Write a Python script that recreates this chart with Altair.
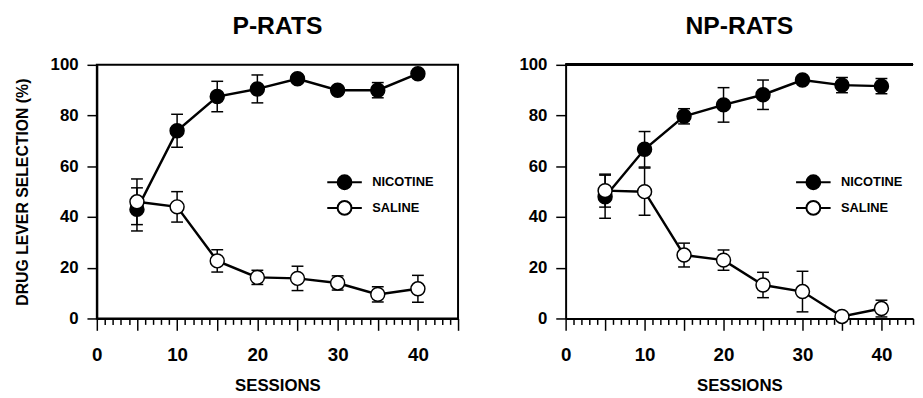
import altair as alt
import pandas as pd

FONT = "Liberation Sans"

sessions = [5, 10, 15, 20, 25, 30, 35, 40]

# P-RATS
p_nicotine = [43, 74, 87.5, 90.5, 94.5, 90, 90, 96.5]
p_nicotine_err = [8.5, 6.5, 6, 5.5, 1.5, 1.5, 3, 1.5]
p_saline = [46, 44, 22.7, 16.2, 15.8, 14, 9.5, 11.7]
p_saline_err = [9, 6, 4.4, 2.8, 4.8, 2.8, 3, 5.3]

# NP-RATS
np_nicotine = [48, 66.7, 79.7, 84.2, 88.2, 94, 92, 91.6]
np_nicotine_err = [8.5, 7, 3, 6.8, 5.8, 1, 3, 3]
np_saline = [50.4, 50, 25, 23, 13.2, 10.6, 0.8, 3.9]
np_saline_err = [6.5, 9.3, 4.7, 4, 5, 8, 0, 3.3]

series_names = ["NICOTINE", "SALINE"]
y_ticks = [0, 20, 40, 60, 80, 100]

LEGEND_SYMBOL = "M-2.5,0L-1,0M1,0L2.5,0M1,0A1,1,0,1,1,-1,0A1,1,0,1,1,1,0Z"


def make_df(nic, nic_err, sal, sal_err):
    rows = []
    for s, v, e in zip(sessions, nic, nic_err):
        rows.append({"session": s, "value": v, "lo": v - e, "hi": v + e, "series": "NICOTINE"})
    for s, v, e in zip(sessions, sal, sal_err):
        rows.append({"session": s, "value": v, "lo": v - e, "hi": v + e, "series": "SALINE"})
    return pd.DataFrame(rows)


def panel(title, df, xmax, width, show_ytitle, right_open):
    x_axis = alt.Axis(
        values=list(range(0, xmax + 1)),
        labelExpr="datum.value % 10 === 0 ? datum.label : ''",
        tickSize={"condition": {"test": "datum.value % 5 === 0", "value": 12}, "value": 6},
        tickColor="black", tickWidth=1.5,
        domainColor="black", domainWidth=2,
        labelFontSize=19, labelFontWeight="bold", labelColor="black",
        labelPadding=16, labelOverlap=False, labelFlush=False,
        title="SESSIONS", titleFontSize=17, titleFontWeight="bold", titleColor="black",
        titlePadding=13, grid=False,
    )
    y_axis = alt.Axis(
        values=y_ticks,
        tickSize=10, tickColor="black", tickWidth=1.5,
        domainColor="black", domainWidth=2,
        labelFontSize=17, labelFontWeight="bold", labelColor="black",
        labelPadding=9,
        title="DRUG LEVER SELECTION (%)" if show_ytitle else "",
        titleFontSize=16, titleFontWeight="bold", titleColor="black",
        titlePadding=20, grid=False,
    )
    x = alt.X("session:Q", scale=alt.Scale(domain=[0, xmax], nice=False), axis=x_axis)
    y = alt.Y("value:Q", scale=alt.Scale(domain=[0, 100], nice=False), axis=y_axis)
    base = alt.Chart(df)
    rules = base.mark_rule(color="black", strokeWidth=1.5).encode(
        x=x, y=alt.Y("lo:Q"), y2="hi:Q"
    )
    cap_lo = base.mark_tick(orient="horizontal", size=12, thickness=1.5, color="black", opacity=1).encode(
        x=x, y=alt.Y("lo:Q")
    )
    cap_hi = base.mark_tick(orient="horizontal", size=12, thickness=1.5, color="black", opacity=1).encode(
        x=x, y=alt.Y("hi:Q")
    )
    line = base.mark_line(color="black", strokeWidth=2.5).encode(
        x=x, y=y, detail="series:N"
    )
    pts = base.mark_point(size=200, filled=True, stroke="black",
                          strokeWidth=1.5, opacity=1).encode(
        x=x, y=y,
        fill=alt.Fill(
            "series:N",
            scale=alt.Scale(domain=series_names, range=["black", "white"]),
            legend=alt.Legend(
                orient="none", legendX=243, legendY=111, title=None,
                symbolType=LEGEND_SYMBOL, symbolSize=196,
                symbolStrokeColor="black", symbolStrokeWidth=2, symbolOpacity=1,
                labelFontSize=13, labelFontWeight="bold", labelColor="black",
                labelOffset=20, rowPadding=4, padding=0,
            ),
        ),
    )
    layers = [rules, cap_lo, cap_hi, line, pts]
    props = dict(
        width=width, height=257,
        title=alt.TitleParams(title, fontSize=25, fontWeight="bold", color="black",
                              anchor="middle", offset=17),
    )
    if right_open:
        top = alt.Chart(df).mark_rule(color="black", strokeWidth=2).encode(
            x=alt.value(0), x2=alt.value(width), y=alt.value(0)
        )
        layers.append(top)
        props["view"] = alt.ViewBackground(stroke="transparent")
    return alt.layer(*layers).properties(**props)


left = panel("P-RATS", make_df(p_nicotine, p_nicotine_err, p_saline, p_saline_err),
             45, 366, True, False)
right = panel("NP-RATS", make_df(np_nicotine, np_nicotine_err, np_saline, np_saline_err),
              44, 352, False, True)

chart = alt.hconcat(left, right, spacing=58).resolve_scale(fill="independent").properties(
    padding={"left": 5, "top": 3, "right": 0, "bottom": 0}
).configure(font=FONT).configure_view(stroke="black", strokeWidth=2)

chart.save("out.html", embed_options={"renderer": "svg", "actions": False})
